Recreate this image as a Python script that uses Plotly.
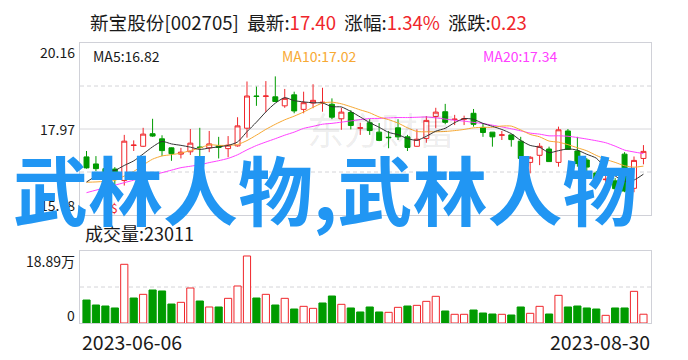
import pandas as pd
import plotly.graph_objects as go

# ---------------- data ----------------
holidays = ["2023-06-22", "2023-06-23"]
dates = [d.strftime("%Y-%m-%d") for d in pd.bdate_range("2023-06-06", "2023-08-30")
         if d.strftime("%Y-%m-%d") not in holidays]

# closes of the 19 sessions before the first visible one (used only for the moving averages)
prior_closes = [15.68, 15.60, 15.46, 16.39, 16.29, 16.56, 16.52, 16.15, 16.07, 16.11,
                16.88, 16.72, 16.52, 16.52, 16.40, 16.20, 16.30, 16.60, 17.02]

opens = [17.26, 17.08, 16.96, 16.95, 16.66, 17.55, 17.53, 17.85, 17.72, 17.49,
         17.33, 17.39, 17.51, 17.49, 17.54, 17.47, 17.54, 17.99, 18.81, 18.80,
         18.79, 18.56, 18.84, 18.47, 18.63, 18.64, 18.60, 18.23, 18.39, 17.99,
         18.13, 17.89, 17.76, 18.00, 17.77, 17.53, 17.73, 18.29, 18.41, 18.21,
         18.22, 18.37, 18.01, 17.89, 17.81, 17.82, 17.66, 17.12, 17.30, 17.46,
         17.12, 17.92, 17.41, 17.18, 16.85, 16.68, 16.65, 17.33, 16.46, 17.22]
highs = [17.41, 17.28, 17.05, 17.00, 17.82, 17.68, 18.00, 18.23, 17.81, 17.50,
         17.49, 17.97, 18.00, 17.92, 17.77, 17.79, 18.27, 19.18, 19.05, 19.19,
         19.31, 18.99, 18.92, 18.92, 19.11, 19.02, 18.75, 18.51, 18.45, 18.13,
         18.22, 18.12, 17.92, 18.22, 17.82, 17.96, 18.30, 18.51, 18.61, 18.33,
         18.31, 18.48, 18.12, 17.89, 17.92, 17.83, 17.77, 17.28, 17.61, 17.52,
         18.03, 17.97, 17.77, 17.23, 16.90, 16.85, 16.72, 17.38, 17.27, 17.56]
lows = [16.96, 16.90, 16.77, 16.55, 16.53, 17.41, 17.51, 17.77, 17.28, 17.16,
        17.22, 17.31, 17.26, 17.38, 17.22, 17.25, 17.52, 17.75, 18.56, 18.40,
        18.66, 18.51, 18.37, 18.37, 18.50, 18.41, 18.22, 17.95, 17.96, 17.82,
        17.82, 17.66, 17.48, 17.69, 17.41, 17.52, 17.62, 17.99, 18.09, 18.07,
        18.07, 18.03, 17.77, 17.52, 17.69, 17.52, 17.21, 16.84, 17.05, 17.13,
        17.01, 17.44, 17.01, 16.88, 16.55, 16.60, 16.29, 16.36, 16.36, 17.07]
closes = [16.98, 16.96, 16.88, 16.73, 17.66, 17.56, 17.84, 17.79, 17.42, 17.34,
          17.38, 17.61, 17.50, 17.59, 17.50, 17.56, 18.05, 18.81, 18.80, 18.81,
          18.67, 18.75, 18.43, 18.64, 18.70, 18.65, 18.27, 18.40, 18.06, 18.00,
          17.93, 17.68, 17.75, 17.77, 17.50, 17.71, 18.19, 18.40, 18.14, 18.22,
          18.23, 18.09, 17.88, 17.77, 17.82, 17.70, 17.22, 17.25, 17.53, 17.14,
          17.95, 17.45, 17.09, 17.00, 16.65, 16.69, 16.45, 16.39, 17.17, 17.40]
# volume in 手 (lots)
volumes = [60300, 47200, 44600, 39400, 154000, 65600, 75200, 86600, 84000, 49800,
           54200, 91800, 57700, 42000, 42000, 64700, 97100, 175800, 65600, 75200,
           47200, 64700, 36700, 43700, 38500, 52500, 70800, 49000, 39400, 28900,
           42000, 28900, 28000, 41100, 44600, 46300, 56800, 70000, 31500, 22800,
           22800, 34100, 26200, 23600, 22800, 21000, 42000, 25400, 43700, 23600,
           72600, 42000, 44600, 39400, 36700, 20100, 39400, 39400, 83100, 23011]

stock_name = "新宝股份"
stock_code = "002705"
price_ticks = [15.78, 17.97, 20.16]
vol_max = 188900

# ---------------- derived ----------------
RED = "#F0262B"
GREEN = "#009B00"
all_c = prior_closes + closes
off = len(prior_closes)


def ma(n):
    return [sum(all_c[off + i - n + 1: off + i + 1]) / n for i in range(len(closes))]


ma5, ma10, ma20 = ma(5), ma(10), ma(20)
prev = [prior_closes[-1]] + closes[:-1]
vol_up = [c >= p for c, p in zip(closes, prev)]
vol_wan = [v / 10000 for v in volumes]
chg = closes[-1] - closes[-2]
pct = chg / closes[-2] * 100

W, H = 688, 360
X0, X1 = 80, 651
PY0, PY1 = 43, 215
VY0, VY1 = 251, 323
FONT = "Noto Sans CJK SC, Noto Sans, sans-serif"


def px(x):
    return x / W


def py(y):
    return (H - y) / H


fig = go.Figure()
fig.add_trace(go.Candlestick(
    x=dates, open=opens, high=highs, low=lows, close=closes,
    increasing=dict(line=dict(color=RED, width=1), fillcolor="white"),
    decreasing=dict(line=dict(color=GREEN, width=1), fillcolor=GREEN),
    whiskerwidth=0, hoverinfo="skip", showlegend=False, xaxis="x", yaxis="y"))
for vals, col in [(ma20, "#FF40FF"), (ma10, "#F7A934"), (ma5, "#333333")]:
    fig.add_trace(go.Scatter(x=dates, y=vals, mode="lines",
                             line=dict(color=col, width=1, shape="spline", smoothing=0.6),
                             hoverinfo="skip", showlegend=False, xaxis="x", yaxis="y"))
fig.add_trace(go.Bar(
    x=dates, y=vol_wan, width=0.76,
    marker=dict(color=["white" if u else GREEN for u in vol_up],
                line=dict(color=[RED if u else GREEN for u in vol_up], width=1)),
    hoverinfo="skip", showlegend=False, xaxis="x2", yaxis="y2"))

axis_common = dict(showgrid=False, zeroline=False, showline=True, mirror=True,
                   linecolor="#D0D1D8", linewidth=1, ticks="", showticklabels=False)
fig.update_layout(
    width=W, height=H, margin=dict(l=0, r=0, t=0, b=0),
    paper_bgcolor="white", plot_bgcolor="white", boxgap=0.25,
    xaxis=dict(domain=[px(X0), px(X1)], type="category", range=[-0.69, 59.8],
               anchor="y", rangeslider=dict(visible=False), **axis_common),
    xaxis2=dict(domain=[px(X0), px(X1)], type="category", range=[-0.69, 59.8],
                anchor="y2", matches="x", **axis_common),
    yaxis=dict(domain=[py(PY1), py(PY0)], range=[price_ticks[0], price_ticks[-1]],
               anchor="x", **axis_common),
    yaxis2=dict(domain=[py(VY1), py(VY0)], range=[0, vol_max / 10000],
                anchor="x2", **axis_common),
)

shapes = []
lo, mid, hi = price_ticks
shapes.append(dict(type="line", xref="x domain", yref="y", x0=0, x1=1, y0=mid, y1=mid,
                   line=dict(color="#D8D8DC", width=1), layer="below"))
for v in [(lo + mid) / 2, (mid + hi) / 2]:
    shapes.append(dict(type="line", xref="x domain", yref="y", x0=0, x1=1, y0=v, y1=v,
                       line=dict(color="#D4D4D8", width=1, dash="4px,3px"), layer="below"))
shapes.append(dict(type="line", xref="x2 domain", yref="y2", x0=0, x1=1,
                   y0=vol_max / 20000, y1=vol_max / 20000,
                   line=dict(color="#D4D4D8", width=1, dash="4px,3px"), layer="below"))
fig.update_layout(shapes=shapes)

ann = []
TXT = "#1A1A1A"


def label(text, x, y, size, color=TXT, xanchor="left", **kw):
    ann.append(dict(text=text, x=x, y=y, xref="paper", yref="paper", xanchor=xanchor,
                    yanchor="middle", showarrow=False,
                    font=dict(family=FONT, size=size, color=color), **kw))


# watermark logo (faint)
label("东方财富", px(381), py(129), 37, color="rgba(0,0,0,0.08)", xanchor="center")

red_span = "<span style='color:%s'>%s</span>"
title = (f"{stock_name}[{stock_code}]&nbsp; 最新:" + red_span % (RED, f"{closes[-1]:.2f}") +
         "&nbsp;&nbsp;涨幅:" + red_span % (RED, f"{pct:.2f}%") +
         "&nbsp;&nbsp;涨跌:" + red_span % (RED, f"{chg:.2f}"))
label(title, px(88), py(21), 18.6)

label(f"MA5:{ma5[-1]:.2f}", px(91), py(56), 14, color="#1A1A1A")
label(f"MA10:{ma10[-1]:.2f}", px(280), py(56), 14, color="#F7A934")
label(f"MA20:{ma20[-1]:.2f}", px(481), py(56), 14, color="#FF40FF")

# price axis labels
label(f"{hi:.2f}", px(77), py(PY0 + 9), 14, xanchor="right")
label(f"{mid:.2f}", px(77), py((PY0 + PY1) / 2), 14, xanchor="right")
label(f"{lo:.2f}", px(77), py(PY1 - 10), 14, xanchor="right")

label(f"成交量:{volumes[-1]}", px(83), py(233), 18)
label(f"{vol_max / 10000:.2f}万", px(77), py(VY0 + 10), 14, xanchor="right")
label("0", px(77), py(VY1 - 8), 14, xanchor="right")

label(dates[0], px(80), py(341), 19.5)
label(dates[-1], px(652), py(341), 19.5, xanchor="right")

# signal mark under the 4th candle
ann.append(dict(text="$", x=dates[3], xref="x", y=py(208), yref="paper", showarrow=False,
                font=dict(family=FONT, size=12, color=RED)))

# big overlay text
ann.append(dict(text="武林人物,武林人物", x=px(325), y=py(188), xref="paper", yref="paper",
                xanchor="center", yanchor="middle", showarrow=False,
                font=dict(family=FONT, size=75, color="#2196F3", weight=700)))

fig.update_layout(annotations=ann)
fig.write_html("out.html")
